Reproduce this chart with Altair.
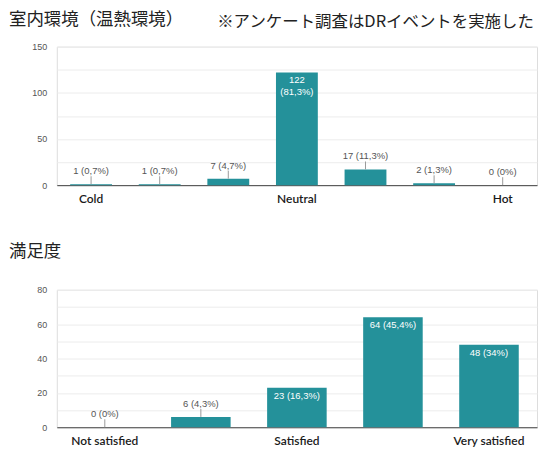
import altair as alt
import pandas as pd

# Survey results: thermal comfort (7-point scale) and overall satisfaction (5-point scale)
thermal_keys = ["1", "2", "3", "4", "5", "6", "7"]
thermal_names = ["Cold", "", "", "Neutral", "", "", "Hot"]
thermal_counts = [1, 1, 7, 122, 17, 2, 0]

satisfaction_keys = ["1", "2", "3", "4", "5"]
satisfaction_names = ["Not satisfied", "", "Satisfied", "", "Very satisfied"]
satisfaction_counts = [0, 6, 23, 64, 48]

thermal_title = "室内環境（温熱環境）"
satisfaction_title = "満足度"
note_text = "※アンケート調査はDRイベントを実施した同日に実施"

BAR_COLOR = "#24919a"
PLOT_W = 482


def pct_text(n, total):
    s = f"{round(100 * n / total, 1):.1f}".rstrip("0").rstrip(".")
    return s.replace(".", ",")


def panel(keys, names, counts, ymax, label_step, grid_step, height, pad_inner,
          title, title_y):
    total = sum(counts)
    step = PLOT_W / len(keys)
    bar_w = step * (1 - pad_inner)
    rows = []
    for k, c in zip(keys, counts):
        label = f"{c} ({pct_text(c, total)}%)"
        inside = c / ymax > 0.2
        text = label
        if inside and len(label) * 5 > bar_w:
            text = [f"{c}", f"({pct_text(c, total)}%)"]
        rows.append({"key": k, "count": c, "text": text, "inside": inside})
    df = pd.DataFrame(rows)

    names_js = "[" + ",".join(f"'{n}'" for n in names) + "]"
    x = alt.X(
        "key:O",
        sort=keys,
        scale=alt.Scale(paddingInner=pad_inner, paddingOuter=pad_inner / 2),
        axis=alt.Axis(
            title=None, labelAngle=0, ticks=False, domainColor="#444",
            domainWidth=1, labelPadding=8, labelFont="Lato",
            labelFontSize=12, labelFontWeight=600, labelColor="#1a1a1a",
            labelExpr=f"{names_js}[toNumber(datum.value) - 1]",
        ),
    )
    grid_vals = list(range(0, ymax + 1, grid_step))
    y = alt.Y(
        "count:Q",
        scale=alt.Scale(domain=[0, ymax], nice=False),
        axis=alt.Axis(
            title=None, values=grid_vals, ticks=False, domain=False,
            gridColor="#ececec", labelFont="Liberation Sans", labelFontSize=9,
            labelColor="#555", labelPadding=10, labelOverlap=False,
            labelExpr=f"datum.value % {label_step} == 0 ? datum.label : ''",
        ),
    )

    base = alt.Chart(df)
    bars = base.mark_bar(color=BAR_COLOR).encode(x=x, y=y)
    outside = base.transform_filter("!datum.inside")
    leaders = outside.mark_rule(color="#9a9a9a", y2Offset=-8).encode(
        x=x, y=y, y2="count:Q"
    )
    out_labels = outside.mark_text(
        font="Liberation Sans", fontSize=9.5, color="#555", baseline="alphabetic",
        dy=-10,
    ).encode(x=x, y=y, text="text")
    in_labels = base.transform_filter("datum.inside").mark_text(
        font="Liberation Sans", fontSize=9.5, color="white", baseline="top",
        dy=3, lineHeight=12,
    ).encode(x=x, y=y, text="text")

    heading = alt.Chart(pd.DataFrame({"t": [title]})).mark_text(
        font="Noto Sans CJK JP", fontSize=17.5, color="#222", align="left",
        baseline="middle",
    ).encode(x=alt.value(-48), y=alt.value(title_y), text="t")

    layers = [bars, leaders, out_labels, in_labels, heading]
    return alt.layer(*layers).properties(width=PLOT_W, height=height)


top = panel(thermal_keys, thermal_names, thermal_counts, 150, 50, 25, 139, 0.39,
            thermal_title, -27)
# note runs off the right edge, so it is cut at the plot's width
NOTE_X = 161
note = alt.Chart(pd.DataFrame({"t": [note_text]})).mark_text(
    font="Noto Sans CJK JP", fontSize=16.5, color="#222", align="left",
    baseline="middle", limit=PLOT_W - NOTE_X + 6, ellipsis="\u200b",
).encode(x=alt.value(NOTE_X), y=alt.value(-25), text="t")
top = alt.layer(top, note)

bottom = panel(satisfaction_keys, satisfaction_names, satisfaction_counts, 80, 20,
               10, 138, 0.38, satisfaction_title, -38)

chart = (
    alt.vconcat(top, bottom, spacing=105, bounds="flush")
    .properties(padding={"left": 8, "top": 9, "right": 0, "bottom": 0})
    .configure_view(stroke="#e6e6e6")
    .configure_axis(labelOverlap=False)
    .configure(background="white")
)

chart.save("out.html", embed_options={"renderer": "svg", "actions": False})
